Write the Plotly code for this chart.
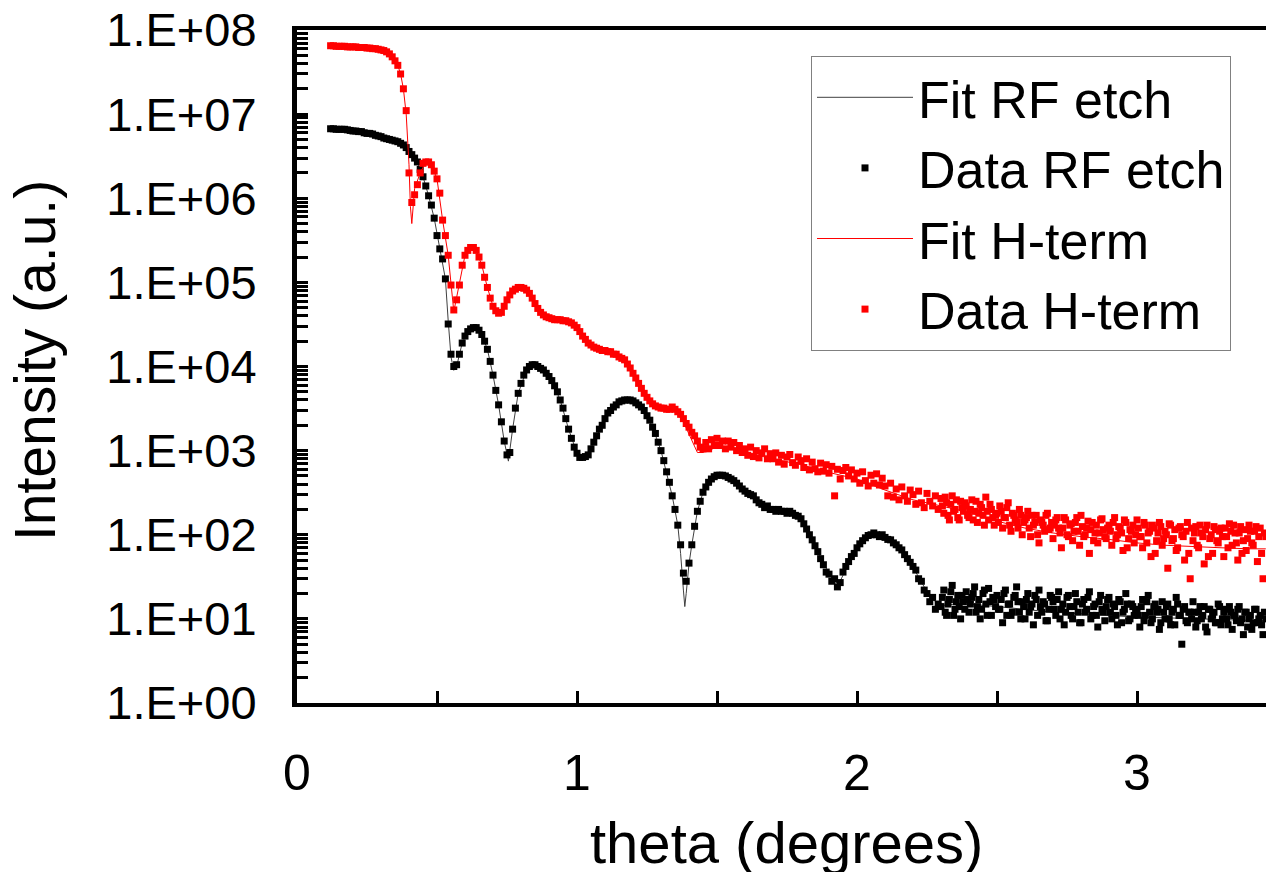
import numpy as np
import plotly.graph_objects as go

# ---------------- data ----------------
theta_start = 0.12   # first measured angle (deg)
theta_step = 0.01    # measurement step (deg)
theta_extra_start = 2.305  # tail is sampled twice as densely

data_rf_etch = [
    6.7e6, 6.7e6, 6.6e6, 6.6e6, 6.6e6, 6.6e6, 6.5e6, 6.4e6,
    6.3e6, 6.3e6, 6.2e6, 6.2e6, 6.0e6, 5.9e6, 5.9e6, 5.8e6, 5.6e6, 5.5e6,
    5.4e6, 5.2e6, 5.1e6, 5.0e6, 4.9e6, 4.8e6, 4.7e6, 4.5e6, 4.3e6, 4.0e6,
    3.6e6, 3.3e6, 3.0e6, 2.7e6, 2.2e6, 1.8e6, 1.4e6, 1.07e6, 8.3e5, 5.8e5,
    3.6e5, 2.5e5, 1.9e5, 1.1e5, 3.2e4, 1.4e4, 1.0e4, 1.05e4, 1.4e4, 1.9e4,
    2.3e4, 2.6e4, 2.8e4, 2.9e4, 2.9e4, 2.7e4, 2.4e4, 2.0e4, 1.6e4, 1.15e4,
    7.9e3, 5.2e3, 3.5e3, 2.2e3, 1.3e3, 8.9e2, 9.5e2, 1.8e3, 3.2e3, 4.8e3,
    6.3e3, 7.9e3, 9.1e3, 1.0e4, 1.05e4, 1.05e4, 1.0e4, 9.5e3, 9.1e3, 8.3e3,
    7.6e3, 6.8e3, 5.9e3, 5.0e3, 4.0e3, 3.2e3, 2.4e3, 1.8e3, 1.4e3, 1.1e3,
    9.3e2, 8.3e2, 8.3e2, 8.5e2, 8.9e2, 1.05e3, 1.26e3, 1.5e3, 1.8e3, 2.0e3,
    2.4e3, 2.8e3, 3.0e3, 3.3e3, 3.5e3, 3.8e3, 3.9e3, 4.0e3, 4.0e3, 4.0e3,
    3.9e3, 3.7e3, 3.5e3, 3.3e3, 3.0e3, 2.6e3, 2.3e3, 1.9e3, 1.6e3, 1.26e3,
    1.0e3, 7.6e2, 5.6e2, 4.2e2, 2.9e2, 2.0e2, 1.3e2, 76, 35, 28,
    46, 76, 1.26e2, 1.9e2, 2.5e2, 3.2e2, 3.7e2, 4.2e2, 4.6e2, 4.9e2,
    5.1e2, 5.1e2, 5.1e2, 5.0e2, 4.8e2, 4.6e2, 4.4e2, 4.1e2, 3.8e2, 3.5e2,
    3.3e2, 3.1e2, 3.0e2, 2.9e2, 2.6e2, 2.4e2, 2.3e2, 2.1e2, 2.2e2, 2.0e2,
    2.0e2, 1.9e2, 2.0e2, 1.9e2, 1.9e2, 1.8e2, 1.9e2, 1.8e2, 1.7e2, 1.66e2,
    1.55e2, 1.35e2, 1.17e2, 1.0e2, 87, 74, 63, 52, 44, 36,
    34, 28, 30, 24, 27, 36, 42, 48, 55, 60,
    70, 78, 85, 92, 98, 1.0e2, 1.05e2, 1.0e2, 95, 1.0e2,
    93, 88, 87, 80, 76, 70, 66, 58, 52, 47,
    42, 38, 30, 28, 22, 20, 16, 18, 13, 15,
    14, 22, 11, 17, 25, 13, 19, 10, 16, 21,
    12, 18, 24, 14, 10, 20, 15, 23, 11, 17,
    19, 13, 9.0, 22, 15, 11, 18, 24, 12, 16,
    10, 20, 14, 8.5, 17, 22, 12, 15, 9.5, 19,
    16, 11, 21, 13, 8.5, 18, 14, 10, 20, 12,
    9.0, 17, 13, 21, 11, 15, 8.0, 19, 12, 14,
    18, 10, 14, 8.5, 16, 12, 20, 9.5, 15, 11,
    13, 8.0, 17, 11, 19, 9.0, 14, 12, 7.5, 16,
    10, 15, 8.5, 13, 18, 11, 5.0, 14, 9.0, 12,
    16, 8.0, 12, 10, 14, 7.0, 13, 11, 9.0, 15,
    8.5, 12, 10, 14, 7.5, 11, 13, 9.0, 6.5, 12,
    10, 7.5, 13, 9.0, 11, 6.5, 10,
]

data_rf_etch_tail = [
    18, 12, 15, 21, 11, 16, 14, 19, 13, 17,
    15, 20, 12, 17, 13, 22, 11, 16, 18, 14,
    13, 17, 20, 11, 15, 12, 19, 16, 10, 14,
    17, 12, 15, 19, 11, 14, 16, 9.5, 13, 18,
    13, 17, 10, 15, 12, 19, 11, 14, 16, 9.0,
    15, 12, 18, 10, 14, 11, 16, 13, 9.5, 17,
    12, 15, 11, 17, 9.0, 13, 15, 10, 14, 12,
    11, 14, 9.5, 16, 12, 10, 15, 13, 9.0, 12,
    14, 10, 12, 8.5, 15, 11, 13, 9.5, 12, 10,
    12, 9.5, 14, 11, 8.0, 13, 10, 12, 9.0, 14,
    10, 13, 8.5, 12, 11, 9.5, 14, 10, 12, 8.0,
    11, 9.0, 13, 10, 8.5, 12,
]

data_h_term = [
    6.5e7, 6.5e7, 6.4e7, 6.4e7, 6.4e7, 6.4e7, 6.3e7, 6.3e7,
    6.3e7, 6.3e7, 6.2e7, 6.2e7, 6.2e7, 6.1e7, 6.1e7, 6.0e7, 6.0e7, 5.9e7,
    5.8e7, 5.7e7, 5.5e7, 5.2e7, 4.8e7, 4.3e7, 3.8e7, 3.0e7, 2.0e7, 1.1e7,
    2.0e6, 8.9e5, 1.1e6, 1.45e6, 2.0e6, 2.6e6, 2.7e6, 2.7e6, 2.5e6, 2.1e6,
    1.7e6, 1.15e6, 5.5e5, 3.6e5, 2.1e5, 9.3e4, 4.7e4, 6.2e4, 9.3e4, 1.6e5,
    2.1e5, 2.4e5, 2.6e5, 2.6e5, 2.4e5, 2.0e5, 1.6e5, 1.15e5, 8.7e4, 6.5e4,
    5.2e4, 4.6e4, 4.3e4, 4.4e4, 5.2e4, 6.2e4, 7.1e4, 7.9e4, 8.3e4, 8.7e4,
    8.7e4, 8.5e4, 8.1e4, 7.4e4, 6.5e4, 5.6e4, 4.9e4, 4.4e4, 4.1e4, 3.9e4,
    3.8e4, 3.7e4, 3.6e4, 3.6e4, 3.6e4, 3.5e4, 3.5e4, 3.4e4, 3.3e4, 3.1e4,
    2.9e4, 2.6e4, 2.3e4, 2.1e4, 1.9e4, 1.8e4, 1.7e4, 1.65e4, 1.6e4, 1.55e4,
    1.55e4, 1.5e4, 1.5e4, 1.4e4, 1.4e4, 1.3e4, 1.25e4, 1.2e4, 1.07e4, 9.6e3,
    8.3e3, 7.3e3, 6.3e3, 5.5e3, 4.8e3, 4.3e3, 3.9e3, 3.6e3, 3.4e3, 3.3e3,
    3.2e3, 3.2e3, 3.1e3, 3.1e3, 3.3e3, 3.1e3, 2.9e3, 2.7e3, 2.4e3, 2.1e3,
    1.9e3, 1.65e3, 1.5e3, 1.3e3, 1.1e3, 1.05e3, 1.25e3, 1.05e3, 1.35e3, 1.15e3,
    1.4e3, 1.15e3, 1.3e3, 1.05e3, 1.3e3, 1.1e3, 1.25e3, 1.0e3, 1.15e3, 9.5e2,
    1.05e3, 8.8e2, 1.1e3, 8.5e2, 1.0e3, 8.2e2, 9.4e2, 1.05e3, 8.0e2, 9.2e2,
    8.0e2, 9.4e2, 7.3e2, 8.8e2, 6.9e2, 8.4e2, 9.0e2, 7.2e2, 6.7e2, 8.4e2,
    7.6e2, 6.3e2, 8.0e2, 5.9e2, 7.3e2, 6.1e2, 5.6e2, 7.1e2, 5.7e2, 6.8e2,
    5.4e2, 6.5e2, 2.9e2, 6.0e2, 4.6e2, 5.8e2, 6.3e2, 5.0e2, 5.9e2, 4.6e2,
    5.4e2, 4.1e2, 5.6e2, 4.4e2, 3.8e2, 5.1e2, 4.1e2, 5.3e2, 3.9e2, 4.7e2,
    3.8e2, 2.9e2, 4.1e2, 2.8e2, 3.5e2, 2.6e2, 3.7e2, 2.9e2, 2.5e2, 3.4e2,
    3.0e2, 2.3e2, 3.3e2, 2.4e2, 2.1e2, 3.1e2, 2.5e2, 2.2e2, 2.9e2, 2.0e2,
    2.7e2, 1.8e2, 2.4e2, 1.5e2, 2.9e2, 2.0e2, 1.6e2, 2.5e2, 1.9e2, 2.2e2,
    1.6e2, 2.6e2, 1.9e2, 1.4e2, 2.3e2, 1.7e2, 2.8e2, 1.5e2, 2.0e2, 1.3e2,
    1.8e2, 2.2e2, 1.2e2, 1.6e2, 2.4e2, 1.1e2, 1.7e2, 1.4e2, 2.0e2, 1.0e2,
    1.5e2, 1.9e2, 95, 1.3e2, 1.7e2, 80, 1.4e2, 1.1e2, 1.8e2, 1.2e2,
    90, 1.5e2, 1.2e2, 70, 1.6e2, 1.0e2, 1.3e2, 85, 1.4e2, 1.1e2,
    1.7e2, 95, 1.2e2, 60, 1.4e2, 1.05e2, 80, 1.5e2, 1.15e2, 90,
    1.3e2, 75, 1.6e2, 1.0e2, 1.2e2, 65, 1.4e2, 90, 1.1e2, 80,
    1.5e2, 95, 70, 1.3e2, 1.05e2, 55, 1.2e2, 85, 1.4e2, 75,
    1.1e2, 40, 1.3e2, 90, 65, 1.2e2, 1.0e2, 50, 1.4e2, 30,
    85, 1.25e2, 70, 1.05e2, 45, 1.3e2, 90, 60, 1.15e2, 80,
    1.2e2, 55, 95, 1.35e2, 75, 1.05e2, 50, 1.25e2, 85, 65,
    1.3e2, 80, 1.1e2, 48, 1.2e2, 30, 95,
]

data_h_term_tail = [
    2.2e2, 2.8e2, 1.7e2, 2.3e2, 1.9e2, 2.6e2, 1.5e2, 2.1e2, 2.4e2, 1.7e2,
    2.0e2, 1.5e2, 2.5e2, 1.8e2, 2.1e2, 1.3e2, 1.9e2, 2.3e2, 1.6e2, 1.7e2,
    1.4e2, 1.9e2, 1.6e2, 2.1e2, 1.3e2, 1.8e2, 1.5e2, 1.2e2, 1.7e2, 1.4e2,
    1.6e2, 1.2e2, 1.7e2, 1.4e2, 1.0e2, 1.5e2, 1.3e2, 1.7e2, 1.15e2, 1.4e2,
    1.3e2, 1.6e2, 1.05e2, 1.2e2, 1.5e2, 95, 1.35e2, 1.1e2, 1.6e2, 75,
    1.25e2, 1.0e2, 1.45e2, 1.15e2, 85, 1.3e2, 1.05e2, 1.55e2, 95, 1.2e2,
    1.1e2, 1.4e2, 90, 1.25e2, 1.05e2, 1.5e2, 70, 1.15e2, 1.3e2, 1.0e2,
    1.2e2, 95, 1.4e2, 80, 1.1e2, 1.3e2, 60, 1.05e2, 1.25e2, 90,
    1.0e2, 1.35e2, 85, 1.15e2, 70, 1.25e2, 95, 1.1e2, 60, 1.2e2,
    1.05e2, 75, 1.3e2, 95, 1.15e2, 55, 1.0e2, 1.25e2, 85, 1.1e2,
    95, 1.2e2, 70, 1.1e2, 1.3e2, 80, 1.05e2, 60, 1.15e2, 90,
    1.1e2, 75, 1.25e2, 95, 60, 1.05e2,
]

fit_rf_theta = [0.12, 0.20, 0.30, 0.36, 0.40, 0.43, 0.45, 0.47, 0.49, 0.51, 0.53, 0.54,
                0.55, 0.56, 0.57, 0.59, 0.61, 0.635, 0.66, 0.68, 0.70, 0.72, 0.74, 0.755,
                0.77, 0.79, 0.82, 0.85, 0.88, 0.91, 0.94, 0.97, 1.00, 1.03, 1.06, 1.09,
                1.12, 1.15, 1.18, 1.21, 1.24, 1.27, 1.30, 1.32, 1.34, 1.36, 1.37, 1.38,
                1.385, 1.39, 1.40, 1.41, 1.43, 1.45, 1.47, 1.50, 1.53, 1.56, 1.60, 1.64,
                1.68, 1.72, 1.76, 1.80, 1.83, 1.86, 1.89, 1.92, 1.935, 1.95, 1.98, 2.01,
                2.04, 2.07, 2.10, 2.13, 2.16, 2.19, 2.22, 2.25, 2.28, 2.31, 2.35, 2.40,
                2.50, 2.60, 2.70, 2.80, 2.90, 3.00, 3.10, 3.20, 3.30, 3.40, 3.46]
fit_rf_int = [6.7e6, 6.3e6, 5.4e6, 4.8e6, 3.6e6, 2.7e6, 1.8e6, 1.07e6, 5.8e5, 2.5e5, 1.1e5, 3.5e4,
              1.3e4, 9.0e3, 1.0e4, 1.9e4, 2.6e4, 2.9e4, 2.4e4, 1.6e4, 7.9e3, 3.5e3, 1.3e3, 7.5e2,
              1.8e3, 4.8e3, 9.1e3, 1.05e4, 9.1e3, 6.8e3, 4.0e3, 1.8e3, 9.3e2, 8.0e2, 1.26e3, 2.0e3,
              3.0e3, 3.8e3, 4.0e3, 3.7e3, 3.0e3, 1.9e3, 1.0e3, 5.6e2, 2.9e2, 1.3e2, 60, 22,
              14, 20, 45, 76, 1.9e2, 3.2e2, 4.2e2, 5.1e2, 5.0e2, 4.4e2, 3.3e2, 2.6e2,
              2.1e2, 2.0e2, 1.9e2, 1.55e2, 1.0e2, 63, 40, 28, 26, 33, 55, 78,
              95, 1.0e2, 93, 80, 66, 47, 32, 21, 16, 14.5, 15, 15,
              14, 13, 12, 11.5, 11, 10.5, 10.3, 10, 9.8, 9.6, 9.5]

fit_h_theta = [0.12, 0.20, 0.30, 0.34, 0.36, 0.37, 0.38, 0.39, 0.40, 0.405, 0.41, 0.415,
               0.42, 0.44, 0.46, 0.48, 0.50, 0.52, 0.54, 0.56, 0.58, 0.60, 0.62, 0.64,
               0.66, 0.68, 0.70, 0.72, 0.74, 0.77, 0.80, 0.83, 0.86, 0.90, 0.95, 1.00,
               1.04, 1.08, 1.12, 1.16, 1.20, 1.24, 1.28, 1.32, 1.35, 1.38, 1.41, 1.43,
               1.45, 1.50, 1.55, 1.60, 1.70, 1.80, 1.90, 2.00, 2.10, 2.20, 2.30, 2.40,
               2.50, 2.60, 2.70, 2.80, 2.90, 3.00, 3.10, 3.20, 3.30, 3.40, 3.46]
fit_h_int = [6.5e7, 6.3e7, 5.8e7, 4.8e7, 3.8e7, 3.0e7, 2.0e7, 1.0e7, 2.5e6, 8.0e5, 5.0e5, 9.0e5,
             1.3e6, 2.0e6, 2.7e6, 2.5e6, 1.7e6, 5.5e5, 2.1e5, 4.5e4, 9.3e4, 2.1e5, 2.6e5, 2.4e5,
             1.6e5, 8.7e4, 5.2e4, 4.3e4, 5.2e4, 7.9e4, 8.7e4, 7.4e4, 4.9e4, 3.8e4, 3.5e4, 2.9e4,
             1.9e4, 1.6e4, 1.5e4, 1.25e4, 8.3e3, 4.8e3, 3.4e3, 3.2e3, 3.0e3, 2.2e3, 1.3e3, 9.5e2,
             9.5e2, 1.1e3, 1.05e3, 9.5e2, 8.0e2, 6.8e2, 5.5e2, 4.6e2, 3.4e2, 2.6e2, 2.2e2, 1.85e2,
             1.45e2, 1.2e2, 1.05e2, 95, 88, 80, 75, 72, 70, 68, 68]

y_tick_vals = [1, 10, 100, 1e3, 1e4, 1e5, 1e6, 1e7, 1e8]
y_tick_text = ["1.E+00", "1.E+01", "1.E+02", "1.E+03", "1.E+04",
               "1.E+05", "1.E+06", "1.E+07", "1.E+08"]
x_tick_vals = [0, 0.5, 1, 1.5, 2, 2.5, 3]
x_tick_text = ["0", "", "1", "", "2", "", "3"]

# ---------------- figure ----------------
theta_main = theta_start + theta_step * np.arange(len(data_rf_etch))
theta_tail = theta_extra_start + theta_step * np.arange(len(data_rf_etch_tail))
theta = np.round(np.concatenate([theta_main, theta_tail]), 4)
rf_all = list(data_rf_etch) + list(data_rf_etch_tail)
h_all = list(data_h_term) + list(data_h_term_tail)

FONT = "Liberation Sans, Arial, sans-serif"

fig = go.Figure()
fig.add_trace(go.Scatter(x=fit_rf_theta, y=fit_rf_int, mode="lines", name="Fit RF etch",
                         legendgroup="a", line=dict(color="#404040", width=1)))
fig.add_trace(go.Scatter(x=theta, y=rf_all, mode="markers", name="Data RF etch",
                         legendgroup="b",
                         marker=dict(symbol="square", size=7, color="black", line=dict(width=0))))
fig.add_trace(go.Scatter(x=fit_h_theta, y=fit_h_int, mode="lines", name="Fit H-term",
                         legendgroup="c", line=dict(color="#FF0000", width=1)))
fig.add_trace(go.Scatter(x=theta, y=h_all, mode="markers", name="Data H-term",
                         legendgroup="d",
                         marker=dict(symbol="square", size=7, color="#FF0000", line=dict(width=0))))

minor_vals = [m * 10 ** k for k in range(0, 8) for m in range(2, 10)]

L, T, R, B = 297, 30, 1266, 703
W, H = 1266, 872
fig.update_layout(
    width=W, height=H,
    margin=dict(l=L, r=W - R, t=T, b=H - B, pad=0),
    paper_bgcolor="white", plot_bgcolor="white",
    font=dict(family=FONT, color="black"),
    showlegend=True,
    legend=dict(x=(811 - L) / (R - L), y=(B - 56) / (B - T), xanchor="left", yanchor="top",
                bgcolor="white", bordercolor="#808080", borderwidth=1,
                font=dict(size=52, family=FONT, color="black"),
                itemwidth=96, tracegroupgap=2, traceorder="normal",
                entrywidth=290, entrywidthmode="pixels"),
    xaxis=dict(range=[0, (R - L) / 280.0], showgrid=False, zeroline=False,
               showline=True, linecolor="black", linewidth=4, mirror=True,
               tickmode="array", tickvals=x_tick_vals, ticktext=x_tick_text,
               ticks="inside", ticklen=12, tickwidth=3, tickcolor="black",
               tickfont=dict(size=50, family=FONT), ticklabelstandoff=23),
    yaxis=dict(type="log", range=[0, 8], showgrid=False, zeroline=False,
               showline=True, linecolor="black", linewidth=5,
               tickmode="array", tickvals=y_tick_vals, ticktext=y_tick_text,
               ticks="inside", ticklen=11, tickwidth=3, tickcolor="black",
               tickfont=dict(size=47, family=FONT), ticklabelstandoff=26,
               minor=dict(tickmode="array", tickvals=minor_vals, ticks="inside",
                          ticklen=11, tickwidth=3, tickcolor="black", showgrid=False)),
    annotations=[
        dict(text="Intensity (a.u.)", xref="paper", yref="paper", x=0, y=(B - 361) / (B - T),
             xanchor="center", yanchor="middle", xshift=35 - L, textangle=-90,
             showarrow=False, font=dict(size=57, family=FONT, color="black")),
        dict(text="theta (degrees)", xref="paper", yref="paper", x=(786 - L) / (R - L), y=0,
             xanchor="center", yanchor="middle", yshift=-(842 - B),
             showarrow=False, font=dict(size=58, family=FONT, color="black")),
    ],
)

fig.write_html("out.html")
